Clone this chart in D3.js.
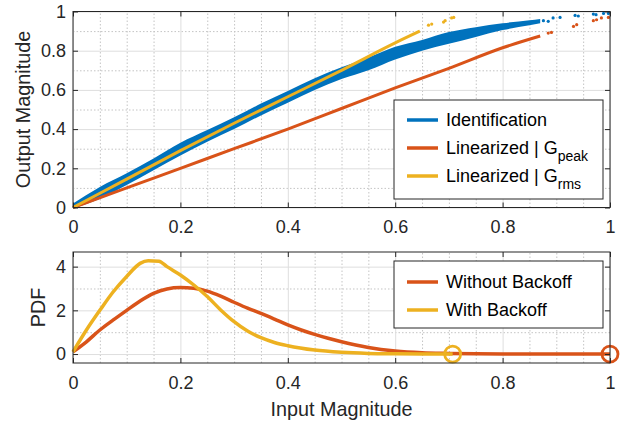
<!DOCTYPE html>
<html>
<head>
<meta charset="utf-8">
<script src="https://cdn.jsdelivr.net/npm/d3@7"></script>
<style>
  body { margin: 0; background: #fff; }
  svg { font-family: "Liberation Sans", Arial, Helvetica, sans-serif; }
  .tick text { font-size: 18px; fill: #262626; }
  .axis path, .axis line { stroke: #262626; }
  .grid line { stroke: #dedede; stroke-width: 1; }
  .grid path, .minor path { display: none; }
  .minor line { stroke: #c4c4c4; stroke-dasharray: 1.5 2; stroke-width: 1; }
  .axis-title { font-size: 19.8px; fill: #262626; }
  .legend text { font-size: 18px; fill: #000; }
</style>
</head>
<body>
<script>
// ---- data ----
const xTicks = [0, 0.2, 0.4, 0.6, 0.8, 1];
const topYTicks = [0, 0.2, 0.4, 0.6, 0.8, 1];
const botYTicks = [0, 2, 4];

// identification cloud: lower / upper edge of the band
const idX    = [0, 0.05, 0.1, 0.15, 0.2, 0.25, 0.3, 0.35, 0.4, 0.45, 0.5, 0.55, 0.6, 0.65, 0.7, 0.75, 0.8, 0.85, 0.87];
const idLow  = [-0.005, 0.045, 0.115, 0.19, 0.265, 0.335, 0.40, 0.47, 0.535, 0.60, 0.655, 0.70, 0.755, 0.80, 0.835, 0.87, 0.905, 0.93, 0.94];
const idHigh = [0.02, 0.105, 0.175, 0.25, 0.33, 0.395, 0.46, 0.53, 0.595, 0.66, 0.715, 0.765, 0.82, 0.855, 0.895, 0.92, 0.94, 0.955, 0.962];
const idDotX = [0.876, 0.885, 0.894, 0.907, 0.935, 0.941, 0.969, 0.974, 0.988, 0.997];
const idDotY = [0.953, 0.95, 0.967, 0.97, 0.98, 0.977, 0.987, 0.984, 0.99, 0.99];

const peakX = [0, 0.1, 0.2, 0.3, 0.4, 0.5, 0.6, 0.7, 0.8, 0.87];
const peakY = [0, 0.1, 0.2, 0.3, 0.4, 0.505, 0.61, 0.71, 0.815, 0.875];
const peakDotX = [0.885, 0.891, 0.932, 0.938, 0.969, 0.975, 0.984, 0.997];
const peakDotY = [0.89, 0.893, 0.924, 0.933, 0.953, 0.958, 0.967, 0.97];

const rmsX = [0, 0.1, 0.2, 0.3, 0.4, 0.5, 0.6, 0.646];
const rmsY = [0, 0.145, 0.29, 0.43, 0.565, 0.70, 0.84, 0.9];
const rmsDotX = [0.662, 0.668, 0.69, 0.693, 0.705, 0.709];
const rmsDotY = [0.93, 0.936, 0.946, 0.953, 0.967, 0.97];

// PDFs
const noBoX = [0, 0.025, 0.05, 0.075, 0.1, 0.125, 0.15, 0.175, 0.2, 0.225, 0.25, 0.275, 0.3, 0.325, 0.35, 0.375, 0.4, 0.425, 0.45, 0.475, 0.5, 0.55, 0.6, 0.65, 0.7, 0.75, 0.8, 0.9, 1.0];
const noBoY = [0.1, 0.56, 1.1, 1.56, 2.0, 2.43, 2.78, 2.98, 3.04, 3.01, 2.88, 2.65, 2.37, 2.1, 1.86, 1.6, 1.33, 1.1, 0.9, 0.72, 0.56, 0.3, 0.14, 0.06, 0.03, 0.01, 0, 0, 0];
const boX = [0, 0.025, 0.05, 0.075, 0.1, 0.125, 0.14, 0.16, 0.175, 0.2, 0.225, 0.25, 0.275, 0.3, 0.325, 0.35, 0.375, 0.4, 0.45, 0.5, 0.55, 0.6, 0.65, 0.707];
const boY = [0.1, 1.1, 2.0, 2.85, 3.55, 4.15, 4.27, 4.25, 4.0, 3.62, 3.16, 2.63, 2.02, 1.48, 1.05, 0.75, 0.53, 0.38, 0.18, 0.08, 0.03, 0.01, 0, 0];
const endX = [1.0, 0.707];   // circle markers: without / with backoff

const blue = "#0072bd", orange = "#d95319", yellow = "#edb120";

// ---- layout ----
const W = 630, H = 428;
const left = 73, right = 610;
const topBox = { t: 11.5, b: 207.5 };
const botBox = { t: 252, b: 363 };

const svg = d3.select("body").append("svg").attr("width", W).attr("height", H);

const x = d3.scaleLinear().domain([0, 1]).range([left, right]);
const yT = d3.scaleLinear().domain([0, 1]).range([topBox.b, topBox.t]);
const yB = d3.scaleLinear().domain([-0.41, 4.67]).range([botBox.b, botBox.t]);

const xMinor = d3.range(1, 20).map(i => i * 0.05).filter(v => Math.abs(v * 5 - Math.round(v * 5)) > 1e-6);

function frame(y, box, yTicks, yMinor) {
  let h = box.b - box.t, w = right - left;
  // minor grid
  svg.append("g").attr("class", "minor").attr("transform", `translate(0,${box.b})`)
     .call(d3.axisBottom(x).tickValues(xMinor).tickSize(-h).tickFormat(""));
  svg.append("g").attr("class", "minor").attr("transform", `translate(${left},0)`)
     .call(d3.axisLeft(y).tickValues(yMinor).tickSize(-w).tickFormat(""));
  // major grid
  svg.append("g").attr("class", "grid").attr("transform", `translate(0,${box.b})`)
     .call(d3.axisBottom(x).tickValues(xTicks).tickSize(-h).tickFormat(""));
  svg.append("g").attr("class", "grid").attr("transform", `translate(${left},0)`)
     .call(d3.axisLeft(y).tickValues(yTicks).tickSize(-w).tickFormat(""));
}

function axes(y, box, yTicks) {
  svg.append("g").attr("class", "axis").attr("transform", `translate(0,${box.b})`)
     .call(d3.axisBottom(x).tickValues(xTicks).tickSize(-5).tickPadding(13).tickFormat(d3.format("~g")))
     .call(g => g.select(".domain").remove());
  svg.append("g").attr("class", "axis").attr("transform", `translate(0,${box.t})`)
     .call(d3.axisTop(x).tickValues(xTicks).tickSize(-5).tickFormat(""))
     .call(g => g.select(".domain").remove());
  svg.append("g").attr("class", "axis").attr("transform", `translate(${left},0)`)
     .call(d3.axisLeft(y).tickValues(yTicks).tickSize(-5).tickPadding(7).tickFormat(d3.format("~g")))
     .call(g => g.select(".domain").remove());
  svg.append("g").attr("class", "axis").attr("transform", `translate(${right},0)`)
     .call(d3.axisRight(y).tickValues(yTicks).tickSize(-5).tickFormat(""))
     .call(g => g.select(".domain").remove());
  svg.append("rect").attr("x", left).attr("y", box.t)
     .attr("width", right - left).attr("height", box.b - box.t)
     .attr("fill", "none").attr("stroke", "#262626").attr("stroke-width", 1);
}

function legend(x0, y0, w, h, rows) {
  let g = svg.append("g").attr("class", "legend");
  g.append("rect").attr("x", x0).attr("y", y0).attr("width", w).attr("height", h)
   .attr("fill", "#fff").attr("stroke", "#262626");
  rows.forEach(r => {
    g.append("line").attr("x1", x0 + 13).attr("x2", x0 + 44).attr("y1", r.y).attr("y2", r.y)
     .attr("stroke", r.color).attr("stroke-width", 3.5);
    let t = g.append("text").attr("x", x0 + 52).attr("y", r.y).attr("dy", "0.36em").text(r.label);
    if (r.sub) t.append("tspan").attr("dy", 7).attr("font-size", "14px").text(r.sub);
  });
}

// ---- top panel ----
frame(yT, topBox, topYTicks, d3.range(1, 10, 2).map(i => i / 10));

svg.append("path")
   .datum(idX.map((v, i) => [v, idLow[i], idHigh[i]]))
   .attr("fill", blue)
   .attr("d", d3.area().x(d => x(d[0])).y0(d => yT(d[1])).y1(d => yT(d[2])).curve(d3.curveMonotoneX));
svg.append("g").selectAll("circle").data(idDotX).join("circle")
   .attr("cx", d => x(d)).attr("cy", (d, i) => yT(idDotY[i])).attr("r", 1.6).attr("fill", blue);

const lineT = d3.line().x(d => x(d[0])).y(d => yT(d[1])).curve(d3.curveMonotoneX);
svg.append("path").datum(peakX.map((v, i) => [v, peakY[i]]))
   .attr("d", lineT).attr("fill", "none").attr("stroke", orange).attr("stroke-width", 3);
svg.append("g").selectAll("circle").data(peakDotX).join("circle")
   .attr("cx", d => x(d)).attr("cy", (d, i) => yT(peakDotY[i])).attr("r", 1.6).attr("fill", orange);
svg.append("path").datum(rmsX.map((v, i) => [v, rmsY[i]]))
   .attr("d", lineT).attr("fill", "none").attr("stroke", yellow).attr("stroke-width", 3);
svg.append("g").selectAll("circle").data(rmsDotX).join("circle")
   .attr("cx", d => x(d)).attr("cy", (d, i) => yT(rmsDotY[i])).attr("r", 1.6).attr("fill", yellow);

axes(yT, topBox, topYTicks);

svg.append("text").attr("class", "axis-title")
   .attr("transform", `translate(30,${(topBox.t + topBox.b) / 2}) rotate(-90)`)
   .attr("text-anchor", "middle").text("Output Magnitude");

legend(394, 100, 209, 99, [
  { y: 120, color: blue, label: "Identification" },
  { y: 148, color: orange, label: "Linearized | G", sub: "peak" },
  { y: 176, color: yellow, label: "Linearized | G", sub: "rms" }
]);

// ---- bottom panel ----
frame(yB, botBox, botYTicks, [1, 3]);

const lineB = d3.line().x(d => x(d[0])).y(d => yB(d[1])).curve(d3.curveMonotoneX);
svg.append("path").datum(noBoX.map((v, i) => [v, noBoY[i]]))
   .attr("d", lineB).attr("fill", "none").attr("stroke", orange).attr("stroke-width", 3.5);
svg.append("path").datum(boX.map((v, i) => [v, boY[i]]))
   .attr("d", lineB).attr("fill", "none").attr("stroke", yellow).attr("stroke-width", 3.5);
svg.append("g").selectAll("circle").data(endX).join("circle")
   .attr("cx", d => x(d)).attr("cy", yB(0)).attr("r", 8)
   .attr("fill", "none").attr("stroke", (d, i) => i === 0 ? orange : yellow).attr("stroke-width", 2.8);

axes(yB, botBox, botYTicks);

svg.append("text").attr("class", "axis-title")
   .attr("transform", `translate(45,${(botBox.t + botBox.b) / 2}) rotate(-90)`)
   .attr("text-anchor", "middle").text("PDF");

svg.append("text").attr("class", "axis-title")
   .attr("x", (left + right) / 2).attr("y", 416)
   .attr("text-anchor", "middle").text("Input Magnitude");

legend(394, 261, 209, 67, [
  { y: 282, color: orange, label: "Without Backoff" },
  { y: 310, color: yellow, label: "With Backoff" }
]);
</script>
</body>
</html>
